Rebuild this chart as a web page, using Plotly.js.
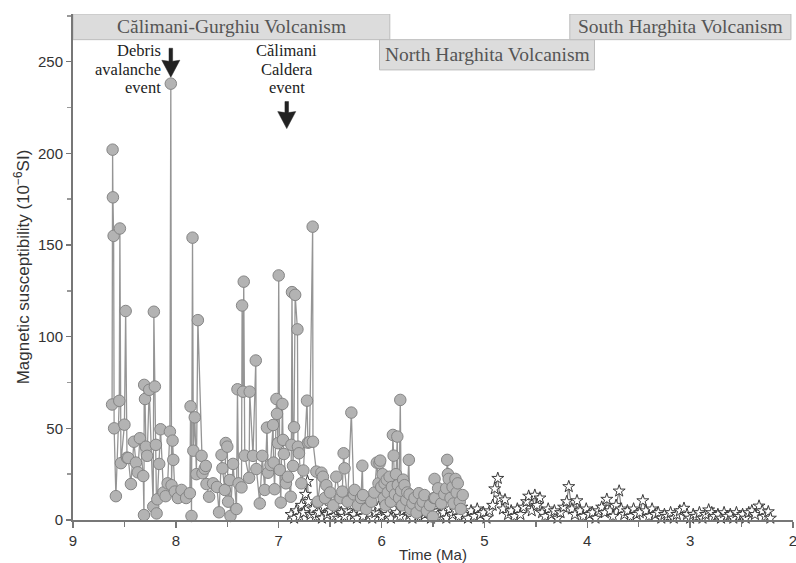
<!DOCTYPE html>
<html>
<head>
<meta charset="utf-8">
<script src="https://cdn.plot.ly/plotly-3.0.1.min.js"></script>
<style>html,body{margin:0;padding:0;background:#fff;}#chart{width:796px;height:563px;}</style>
</head>
<body>
<div id="chart"></div>
<script>
// Circle series (Călimani-Gurghiu / North Harghita samples): time (Ma) and magnetic susceptibility
const circleTime = [8.62,8.615,8.612,8.605,8.60,8.583,8.55,8.544,8.534,8.50,8.488,8.475,8.463,8.437,8.408,8.388,8.37,8.35,8.317,8.31,8.308,8.30,8.291,8.279,8.259,8.22,8.214,8.204,8.194,8.187,8.18,8.162,8.149,8.12,8.10,8.08,8.058,8.049,8.042,8.032,8.025,8.01,7.98,7.945,7.90,7.864,7.857,7.848,7.838,7.83,7.816,7.80,7.786,7.75,7.741,7.72,7.709,7.702,7.677,7.638,7.60,7.58,7.556,7.547,7.524,7.515,7.50,7.492,7.476,7.469,7.444,7.411,7.401,7.39,7.362,7.356,7.347,7.34,7.33,7.288,7.282,7.25,7.223,7.217,7.184,7.16,7.136,7.114,7.104,7.08,7.055,7.05,7.04,7.022,7.017,7.007,7.0,6.99,6.98,6.964,6.958,6.95,6.93,6.91,6.883,6.877,6.871,6.861,6.851,6.84,6.818,6.813,6.803,6.78,6.76,6.725,6.716,6.70,6.67,6.667,6.634,6.62,6.585,6.57,6.55,6.537,6.50,6.47,6.44,6.40,6.382,6.369,6.36,6.33,6.294,6.27,6.262,6.23,6.2,6.187,6.181,6.15,6.10,6.07,6.046,6.03,6.02,6.013,6.003,5.99,5.98,5.971,5.96,5.95,5.94,5.922,5.91,5.90,5.89,5.883,5.87,5.86,5.847,5.842,5.83,5.818,5.81,5.80,5.79,5.777,5.76,5.75,5.735,5.728,5.72,5.70,5.68,5.66,5.638,5.62,5.60,5.583,5.56,5.53,5.502,5.49,5.485,5.479,5.45,5.42,5.39,5.372,5.362,5.355,5.347,5.33,5.31,5.30,5.282,5.27,5.259,5.24,5.23,5.211];
const circleValue = [63,202,176,155,50,13,65,159,31,52,114,34,33.8,19.6,42.7,31.3,26,44.6,24,2.7,73.7,66,40,35,71,7.3,113.6,72.8,41,3.6,11.3,30.6,49.5,15,13,20,48.2,238,19,43.3,32.8,15.5,12,16.4,12,14.6,62,2.2,154,37.8,56,25,109,35,25.5,28,29.5,19.6,12.7,20,18,4.2,35.5,28.2,16.4,42,40,10,21.8,2.2,30.6,6,71.3,20,17.8,117,70,130,35.1,23,70,35,87,27.8,9,35,16.4,50.4,25.8,30,51.8,31.3,16.8,66,57.9,41.9,133.4,27.3,9.5,63.3,43.7,36,20,23.6,12.7,41,124.3,29.5,50.6,122.8,104,40,36.4,20,27,65.1,42.2,42.5,160,42.7,26.4,10,25.8,23.6,12,19,15,8,23.6,12,15.5,36.4,28.2,10,58.6,14,16.4,8,12,29.6,13.6,6,10,15,31.3,20,31,32.4,18,25,12,20,8,22,15,23.6,10,18,46.4,35.1,14,25,45.5,19,12,65.5,16,8,22,19,11,15,32.8,14,6,9,12,4,14.6,8,10,13.6,5,8,1.8,12,22.4,12,17.3,9,14,17.3,32.8,25,22.4,12,18,9,22.4,15,20,10,6,13.6];

// Star series (Harghita samples)
const starTime = [6.88,6.85,6.83,6.80,6.78,6.76,6.74,6.72,6.71,6.69,6.67,6.64,6.61,6.58,6.56,6.53,6.50,6.47,6.45,6.42,6.39,6.36,6.33,6.30,6.27,6.24,6.21,6.18,6.15,6.12,6.09,6.06,6.03,6.00,5.97,5.94,5.91,5.88,5.85,5.82,5.79,5.76,5.73,5.70,5.67,5.64,5.61,5.58,5.55,5.52,5.49,5.46,5.43,5.40,5.37,5.34,5.31,5.28,5.25,5.22,5.19,5.16,5.13,5.10,5.07,5.04,5.01,4.98,4.95,4.92,4.90,4.87,4.85,4.82,4.80,4.77,4.74,4.71,4.68,4.65,4.62,4.59,4.57,4.54,4.51,4.49,4.46,4.44,4.41,4.38,4.35,4.32,4.29,4.26,4.23,4.20,4.18,4.15,4.12,4.10,4.07,4.04,4.01,3.98,3.95,3.92,3.89,3.86,3.83,3.81,3.78,3.75,3.72,3.69,3.67,3.64,3.61,3.58,3.55,3.52,3.49,3.46,3.43,3.40,3.37,3.34,3.31,3.28,3.25,3.22,3.19,3.16,3.13,3.10,3.06,3.03,3.00,2.97,2.94,2.91,2.88,2.85,2.82,2.79,2.76,2.73,2.70,2.67,2.64,2.61,2.58,2.55,2.52,2.49,2.46,2.43,2.40,2.37,2.33,2.30,2.27,2.24,2.22];
const starValue = [3,1,5,2,8,4,14,21,10,3,6,2,4,1,7,3,5,2,6,1,4,2,5,8,3,1,5,2,6,3,1,4,7,2,5,3,1,6,4,2,5,9,3,1,5,2,6,3,4,1,5,8,2,4,1,6,3,5,2,7,3,1,5,2,6,3,4,1,5,8,17,22.7,12,6,11,3,5,2,6,3,7,10,13,5,13.5,8,12,4,2,6,3,5,1,4,7,10,18.2,6,3,10.5,5,2,6,3,4,1,5,7,4,11.3,5,2,8,15.8,6,3,5,2,6,3,4,10.5,5,2,6,3,4,1,3,2,4,1,3,5,6.4,3,1,3,2,4,1,3,5.5,4,2,3,1,4,2,3,1,4,2,3,1,4,5,3,7.6,5,2,4.5,1];

// Axis ticks
const xTickVals = [9,8,7,6,5,4,3,2];
const yTickVals = [0,50,100,150,200,250];

// Volcanism period labels
const periodNames = ['Călimani-Gurghiu Volcanism','North Harghita Volcanism','South Harghita Volcanism'];
const periodStart = [9.0, 6.02, 4.17];
const periodEnd = [5.92, 3.93, 2.02];
const periodBottom = [262, 245.5, 262];
const periodTop = [276, 262, 276];

// Event labels (one entry per text line) and event arrows
const debrisLines = ['Debris', 'avalanche', 'event'];
const calderaLines = ['Călimani', 'Caldera', 'event'];
const eventLineY = [256.2, 246.0, 235.8];
const eventTime = [8.049, 6.922];
const arrowTipValue = [241.5, 213.5];
const arrowLength = [29, 27];

const shapes = periodNames.map((n, i) => ({
  type: 'rect', xref: 'x', yref: 'y',
  x0: periodStart[i], x1: periodEnd[i], y0: periodBottom[i], y1: periodTop[i],
  fillcolor: '#dcdcdc', line: {color: '#bdbdbd', width: 1}, layer: 'above'
}));
eventTime.forEach((t, i) => shapes.push({
  type: 'path', xref: 'x', yref: 'y', xsizemode: 'pixel', ysizemode: 'pixel',
  xanchor: t, yanchor: arrowTipValue[i],
  path: 'M-1.8,' + arrowLength[i] + ' L1.8,' + arrowLength[i] + ' L1.8,16 L9,17 L0,0 L-9,17 L-1.8,16 Z',
  fillcolor: '#222', line: {color: '#222', width: 0.5}, layer: 'above'
}));

const traces = [
  {
    x: starTime, y: starValue, type: 'scatter', mode: 'lines+markers',
    line: {color: '#444', width: 0.8},
    marker: {symbol: 'star', size: 9, color: '#ffffff', line: {color: '#3a3a3a', width: 1}},
    cliponaxis: false, hoverinfo: 'x+y', showlegend: false
  },
  {
    x: circleTime, y: circleValue, type: 'scatter', mode: 'lines+markers',
    line: {color: '#959595', width: 1.3},
    marker: {symbol: 'circle', size: 11.5, color: '#b3b3b3', line: {color: '#858585', width: 1}},
    cliponaxis: false, hoverinfo: 'x+y', showlegend: false
  }
];

const serif = 'Liberation Serif, Times New Roman, serif';
const annotations = periodNames.map((n, i) => ({
  xref: 'x', yref: 'y', x: (periodStart[i] + periodEnd[i]) / 2, y: (periodBottom[i] + periodTop[i]) / 2,
  text: n, showarrow: false, font: {family: serif, size: 19.5, color: '#555'},
  xanchor: 'center', yanchor: 'middle'
}));
debrisLines.forEach((t, i) => annotations.push({
  xref: 'x', yref: 'y', x: 8.135, y: eventLineY[i], text: t, showarrow: false, borderpad: 0,
  xanchor: 'right', yanchor: 'middle', font: {family: serif, size: 16.5, color: '#222'}
}));
calderaLines.forEach((t, i) => annotations.push({
  xref: 'x', yref: 'y', x: 6.922, y: eventLineY[i], text: t, showarrow: false, borderpad: 0,
  xanchor: 'center', yanchor: 'middle', font: {family: serif, size: 16.5, color: '#222'}
}));

const layout = {
  width: 796, height: 563,
  margin: {l: 73, r: 3, t: 14, b: 43},
  paper_bgcolor: '#fff', plot_bgcolor: '#fff',
  font: {family: 'Liberation Sans, Arial, sans-serif', size: 15, color: '#333'},
  xaxis: {
    range: [9, 2], tickvals: xTickVals, showgrid: false, zeroline: false,
    showline: true, linecolor: '#777', linewidth: 2, ticklabeloverflow: 'allow',
    ticks: 'outside', ticklen: 6, tickcolor: '#777', tickwidth: 1.5,
    minor: {dtick: 0.5, ticks: 'outside', ticklen: 5, tickcolor: '#777', tickwidth: 1.5},
    tickfont: {size: 15, color: '#333'},
    title: {text: 'Time (Ma)', font: {size: 15, color: '#333'}, standoff: 2}
  },
  yaxis: {
    range: [0, 276], tickvals: yTickVals, showgrid: false, zeroline: false,
    showline: true, linecolor: '#777', linewidth: 2,
    ticks: 'outside', ticklen: 5, tickcolor: '#777', tickwidth: 1.5,
    minor: {dtick: 25, ticks: 'outside', ticklen: 4, tickcolor: '#999', tickwidth: 1.5},
    tickfont: {size: 15, color: '#333'},
    title: {text: 'Magnetic susceptibility (10<sup>−6</sup>SI)', font: {size: 17, color: '#333'}, standoff: 4}
  },
  shapes: shapes,
  annotations: annotations,
  showlegend: false
};

Plotly.newPlot('chart', traces, layout, {displayModeBar: false, staticPlot: true});
</script>
</body>
</html>
